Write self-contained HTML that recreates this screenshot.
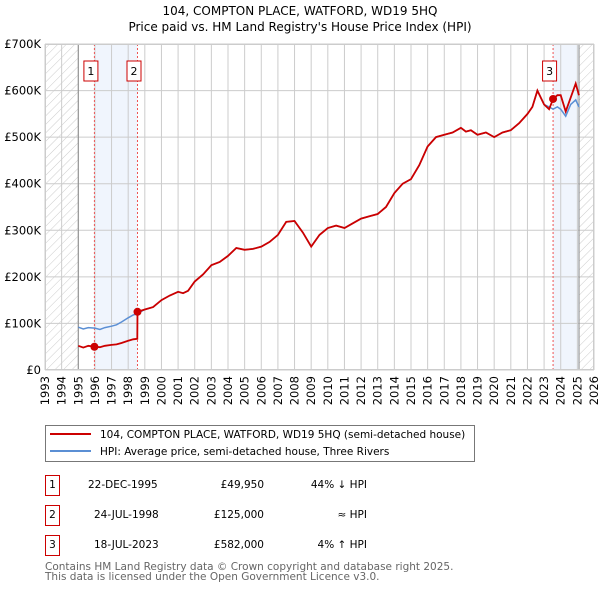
<!DOCTYPE html>
<html><head><meta charset="utf-8"><style>
body{margin:0;background:#fff;width:600px;height:590px;overflow:hidden;font-family:"DejaVu Sans","Liberation Sans",sans-serif}
svg text{font-family:"DejaVu Sans","Liberation Sans",sans-serif}
</style></head><body>
<svg id="c" width="600" height="590" xmlns="http://www.w3.org/2000/svg">
<defs><pattern id="hatch" patternUnits="userSpaceOnUse" width="6" height="6" patternTransform="rotate(45)"><line x1="0" y1="0" x2="0" y2="6" stroke="#ccc" stroke-width="1"/></pattern></defs>
<text x="300" y="15" text-anchor="middle" font-size="12">104, COMPTON PLACE, WATFORD, WD19 5HQ</text>
<text x="300" y="31" text-anchor="middle" font-size="12">Price paid vs. HM Land Registry's House Price Index (HPI)</text>
<g id="plot"></g>
<g>
<rect x="45.5" y="425.5" width="429" height="36" fill="#fff" stroke="#777"/>
<line x1="50" y1="434" x2="91" y2="434" stroke="#cc0000" stroke-width="2"/>
<text x="100" y="438" font-size="10.5">104, COMPTON PLACE, WATFORD, WD19 5HQ (semi-detached house)</text>
<line x1="50" y1="451" x2="91" y2="451" stroke="#5b8fd4" stroke-width="2"/>
<text x="100" y="455" font-size="10.5">HPI: Average price, semi-detached house, Three Rivers</text>
</g>
<g font-size="10.5">
<rect x="45.5" y="475.5" width="14" height="20" fill="#fff" stroke="#cc0000"/><text x="52.5" y="488" text-anchor="middle">1</text>
<text x="88" y="488">22-DEC-1995</text><text x="264" y="488" text-anchor="end">£49,950</text><text x="367" y="488" text-anchor="end">44% ↓ HPI</text>
<rect x="45.5" y="505.5" width="14" height="20" fill="#fff" stroke="#cc0000"/><text x="52.5" y="518" text-anchor="middle">2</text>
<text x="94" y="518">24-JUL-1998</text><text x="264" y="518" text-anchor="end">£125,000</text><text x="367" y="518" text-anchor="end">≈ HPI</text>
<rect x="45.5" y="535.5" width="14" height="20" fill="#fff" stroke="#cc0000"/><text x="52.5" y="548" text-anchor="middle">3</text>
<text x="94" y="548">18-JUL-2023</text><text x="264" y="548" text-anchor="end">£582,000</text><text x="367" y="548" text-anchor="end">4% ↑ HPI</text>
</g>
<text x="45" y="570" font-size="10.5" fill="#666">Contains HM Land Registry data © Crown copyright and database right 2025.</text>
<text x="45" y="580" font-size="10.5" fill="#666">This data is licensed under the Open Government Licence v3.0.</text>
</svg>
<script>
const hpiYears=[1995,1995.3,1995.6,1996,1996.3,1996.6,1997,1997.3,1997.6,1998,1998.3,1998.56,1999,1999.5,2000,2000.5,2001,2001.3,2001.6,2002,2002.5,2003,2003.5,2004,2004.5,2005,2005.5,2006,2006.5,2007,2007.5,2008,2008.5,2009,2009.5,2010,2010.5,2011,2011.5,2012,2012.5,2013,2013.5,2014,2014.5,2015,2015.5,2016,2016.5,2017,2017.5,2018,2018.3,2018.6,2019,2019.5,2020,2020.5,2021,2021.5,2022,2022.3,2022.6,2023,2023.3,2023.54,2023.8,2024,2024.3,2024.6,2024.9,2025.1];
const hpiValues=[92,88,91,90,87,91,94,97,103,112,118,121,130,135,150,160,168,165,170,190,205,225,232,245,262,258,260,265,275,290,318,320,295,265,290,305,310,305,315,325,330,335,350,380,400,410,440,480,500,505,510,520,512,515,505,510,500,510,515,530,550,565,600,570,565,560,565,560,545,570,580,565];
const priceYears=[1995,1995.3,1995.6,1995.97,1996.3,1996.6,1997,1997.3,1997.6,1998,1998.3,1998.55,1998.56,1999,1999.5,2000,2000.5,2001,2001.3,2001.6,2002,2002.5,2003,2003.5,2004,2004.5,2005,2005.5,2006,2006.5,2007,2007.5,2008,2008.5,2009,2009.5,2010,2010.5,2011,2011.5,2012,2012.5,2013,2013.5,2014,2014.5,2015,2015.5,2016,2016.5,2017,2017.5,2018,2018.3,2018.6,2019,2019.5,2020,2020.5,2021,2021.5,2022,2022.3,2022.6,2023,2023.3,2023.54,2023.8,2024,2024.3,2024.6,2024.9,2025.1];
const priceValues=[52,48,52,49.95,49,52,54,55,58,63,66,67,125,130,135,150,160,168,165,170,190,205,225,232,245,262,258,260,265,275,290,318,320,295,265,290,305,310,305,315,325,330,335,350,380,400,410,440,480,500,505,510,520,512,515,505,510,500,510,515,530,550,565,600,570,560,582,590,590,555,585,615,590];
const saleYears=[1995.97,1998.56,2023.54];
const salePrices=[49.95,125,582];
const saleLabels=["1","2","3"];
const yTicks=[0,100,200,300,400,500,600,700];
const yTickLabels=["£0","£100K","£200K","£300K","£400K","£500K","£600K","£700K"];
const xTicks=[1993,1994,1995,1996,1997,1998,1999,2000,2001,2002,2003,2004,2005,2006,2007,2008,2009,2010,2011,2012,2013,2014,2015,2016,2017,2018,2019,2020,2021,2022,2023,2024,2025,2026];

const L=45,R=594,T=44,B=370,X0=1993,X1=2026,YMAX=700;
const X=v=>L+(v-X0)/(X1-X0)*(R-L);
const Y=v=>B-v/YMAX*(B-T);
const NS="http://www.w3.org/2000/svg";
const g=document.getElementById('plot');
function mk(t,a,p){const e=document.createElementNS(NS,t);for(const k in a)e.setAttribute(k,a[k]);(p||g).appendChild(e);return e;}

let e;
e=mk('rect',{x:L,y:T,width:R-L,height:B-T,fill:'#fff'});


[[saleYears[0],saleYears[1]],[saleYears[2],2025.1]].forEach(b=>{
 e=mk('rect',{x:X(b[0]),y:T,width:X(b[1])-X(b[0]),height:B-T,fill:'#f0f5fd'});
 
 
});
e=mk('rect',{x:L,y:T,width:X(1995)-L,height:B-T,fill:'url(#hatch)'});


e=mk('rect',{x:X(2025.1),y:T,width:R-X(2025.1),height:B-T,fill:'url(#hatch)'});


yTicks.forEach((v,i)=>{
 e=mk('line',{x1:L,x2:R,y1:Y(v),y2:Y(v),stroke:'#ccc','stroke-width':1});
 
 
 e=mk('text',{x:L-4,y:Y(v)+4,'text-anchor':'end','font-size':'11.5'});
 e.textContent=yTickLabels[i];
 
 
});
xTicks.forEach(v=>{
 e=mk('line',{x1:X(v),x2:X(v),y1:T,y2:B,stroke:'#ccc','stroke-width':1});
 
 
 e=mk('text',{x:0,y:0,'text-anchor':'end','font-size':'11.5',transform:`translate(${X(v)+4},${B+6}) rotate(-90)`});
 e.textContent=v;
 
 
});
e=mk('line',{x1:X(1995),x2:X(1995),y1:T,y2:B,stroke:'#888'});


e=mk('line',{x1:X(2025.1),x2:X(2025.1),y1:T,y2:B,stroke:'#888'});


saleYears.forEach((s,i)=>{
 e=mk('line',{x1:X(s),x2:X(s),y1:T,y2:B,stroke:'#ee5555','stroke-width':1,'stroke-dasharray':'2,2'});
 
 
});
const pts=(xs,ys)=>xs.map((x,i)=>X(x).toFixed(1)+','+Y(ys[i]).toFixed(1)).join(' ');
e=mk('polyline',{points:pts(hpiYears,hpiValues),fill:'none',stroke:'#5b8fd4','stroke-width':1.5});


e=mk('polyline',{points:pts(priceYears,priceValues),fill:'none',stroke:'#cc0000','stroke-width':1.8});


saleYears.forEach((s,i)=>{
 e=mk('circle',{cx:X(s),cy:Y(salePrices[i]),r:4,fill:'#cc0000'});
 
 
 const bx=X(s)-3.5;
 e=mk('rect',{x:bx-7,y:61,width:14,height:20,fill:'#fff',stroke:'#cc0000'});
 
 
 e=mk('text',{x:bx,y:75,'text-anchor':'middle','font-size':'11'});
 e.textContent=saleLabels[i];
 
 
});
e=mk('rect',{x:L+0.5,y:T+0.5,width:R-L-1,height:B-T-1,fill:'none',stroke:'#ccc'});


</script>
</body></html>
